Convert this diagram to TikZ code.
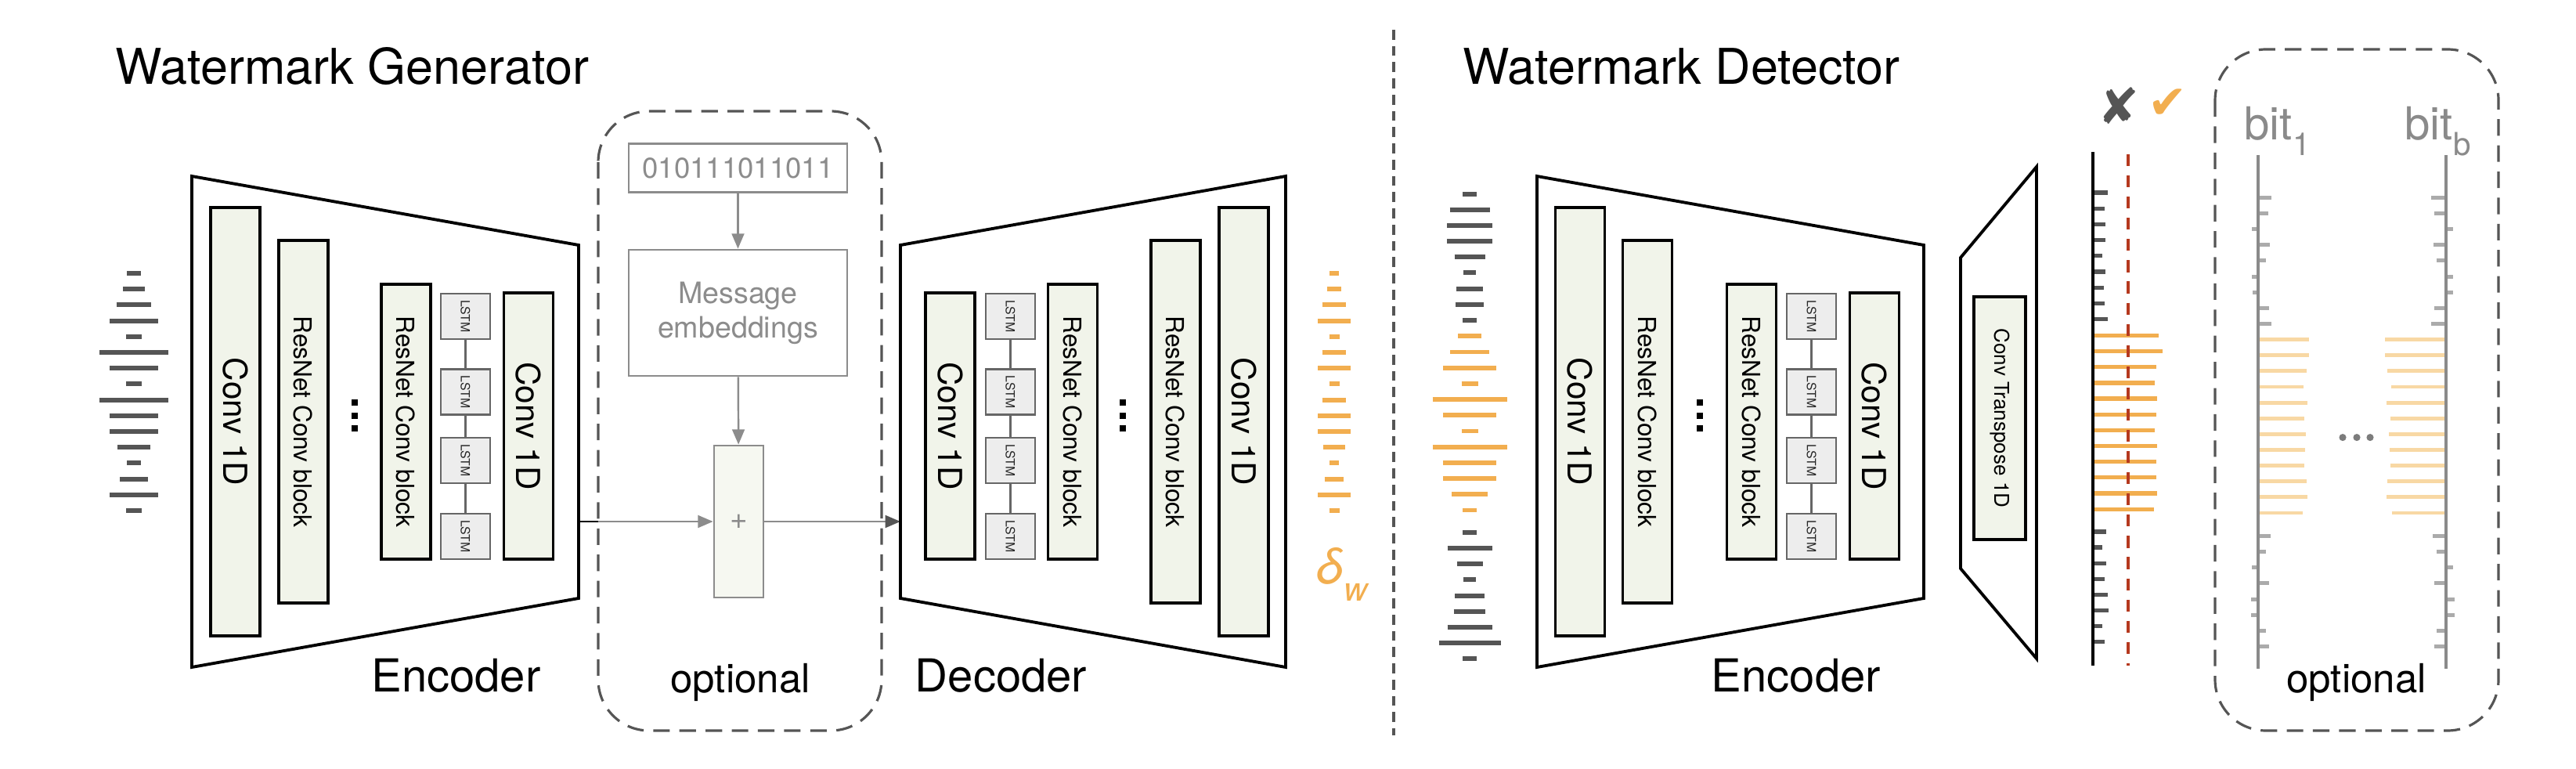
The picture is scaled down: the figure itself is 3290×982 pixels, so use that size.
\documentclass[tikz,border=0pt]{standalone}
\usepackage{fontspec}
\setmainfont{TeX Gyre Heros}
\newfontfamily\symfont{DejaVu Sans}
\usetikzlibrary{arrows.meta}
\definecolor{boxfill}{HTML}{F1F4EA}
\definecolor{plusfill}{HTML}{F6F8F1}
\definecolor{lstmfill}{HTML}{EDEDED}
\definecolor{lstmgray}{HTML}{666666}
\definecolor{wavegray}{HTML}{555555}
\definecolor{wmorange}{HTML}{F2AE4F}
\definecolor{lightorange}{HTML}{F8D8A4}
\definecolor{lightgray}{HTML}{ABABAB}
\definecolor{axisgray}{HTML}{8A8A8A}
\definecolor{msggray}{HTML}{8C8C8C}
\definecolor{dashgray}{HTML}{555555}
\definecolor{thresh}{HTML}{B5391F}
\tikzset{
  blockbox/.style={draw=black, line width=0.95pt, fill=boxfill, inner sep=0pt, rotate=-90, minimum height=0.63cm},
  conv/.style={blockbox, font=\fontsize{12}{14}\selectfont},
  resnet/.style={blockbox, font=\fontsize{9}{10}\selectfont},
  lstm/.style={draw=lstmgray, line width=0.75pt, fill=lstmfill, inner sep=0pt, rotate=-90, minimum width=0.58cm, minimum height=0.63cm, text=black!85, font=\fontsize{4.5}{5}\selectfont},
  lstmwire/.style={draw=lstmgray, line width=0.75pt},
  trap/.style={draw=black, line width=1.1pt, line join=miter},
  msgbox/.style={draw=msggray, line width=0.75pt, text=msggray, inner sep=0pt},
  garrow/.style={draw=msggray, line width=0.7pt, -{Triangle[length=5.5pt,width=4.5pt,color=msggray]}},
  optbox/.style={draw=dashgray, line width=0.9pt, dash pattern=on 6pt off 3.5pt, rounded corners=0.65cm},
  wavebar/.style={line width=1.7pt},
  tickbar/.style={line width=1.5pt},
  bitbar/.style={line width=1.4pt},
  titletext/.style={anchor=base west, inner sep=0pt, font=\fontsize{17.9}{20}\selectfont},
  lbl/.style={anchor=base, inner sep=0pt, font=\fontsize{16.5}{18}\selectfont},
  optlbl/.style={anchor=base, inner sep=0pt, font=\fontsize{14.5}{16}\selectfont},
  bitlbl/.style={anchor=base west, inner sep=0pt, text=axisgray, font=\fontsize{16.5}{18}\selectfont}
}
\begin{document}
\begin{tikzpicture}[x=0.01cm, y=-0.01cm, line cap=butt]
\useasboundingbox (0,0) rectangle (3290,982);

% titles
\node[titletext] (genTitle) at (147,108) {Watermark Generator};
\node[titletext] (detTitle) at (1868,108) {Watermark Detector};

% input audio
\foreach \w [count=\i from 0] in {17.3,27.3,44.7,61.7,19.3,87.3,61.7,19.3,87.3,61.7,61.7,41.3,17.3,36.3,61.7,19.3}
  \draw[wavebar, wavegray] ({171-\w/2},{349+20.2*\i}) -- ++(\w,0);

% generator: encoder
\draw[trap] (245,225) -- (739,313) -- (739,764) -- (245,852) -- cycle;
\node[conv, minimum width=5.47cm] (gc1) at (300.5,538.5) {Conv 1D};
\node[resnet, minimum width=4.63cm] (gr1) at (387.5,538.5) {ResNet Conv block};
\foreach \y in {514,530.5,547} \fill ({452.5-4},{\y-4}) rectangle ++(8,8);
\node[resnet, minimum width=3.51cm] (gr2) at (518.5,538.5) {ResNet Conv block};
\foreach \y [count=\i] in {404,500.5,588,685} \node[lstm] (gl\i) at (594.5,\y) {LSTM};
\foreach \i/\j in {1/2,2/3,3/4} \draw[lstmwire] (gl\i) -- (gl\j);
\node[conv, minimum width=3.40cm] (gc2) at (675,544) {Conv 1D};
\node[lbl] (genEnc) at (582.5,883) {Encoder};
\coordinate (genOut) at (739,666);

% optional message
\draw[optbox] (764,142) rectangle (1126,933);
\node[msgbox, minimum width=2.79cm, minimum height=0.62cm, font=\fontsize{10.4}{12}\selectfont] (bits) at (942.5,214.5) {010111011011};
\node[msgbox, minimum width=2.79cm, minimum height=1.61cm, align=center, font=\fontsize{10.7}{12.5}\selectfont] (msg) at (942.5,399.5) {Message\\embeddings};
\node[msgbox, fill=plusfill, minimum width=0.63cm, minimum height=1.94cm, font=\fontsize{11}{12}\selectfont] (plus) at (943.5,666) {+};
\node[optlbl] (genOpt) at (945.5,884) {optional};
\draw[garrow] (bits) -- (msg);
\draw[garrow] (msg) -- (plus);
\coordinate (optIn) at (764,666);
\coordinate (decIn) at (1150,666);
\draw[line width=0.75pt] (genOut) -- (optIn);
\draw[garrow] (optIn) -- (plus);
\draw[garrow, -{Triangle[length=5.5pt,width=4.5pt,color=dashgray]}] (plus) -- (decIn);

% generator: decoder
\draw[trap] (1150,313) -- (1642,225) -- (1642,852) -- (1150,764) -- cycle;
\node[conv, minimum width=3.40cm] (dc1) at (1213.5,544) {Conv 1D};
\foreach \y [count=\i] in {404,500.5,588,685} \node[lstm] (dl\i) at (1290.5,\y) {LSTM};
\foreach \i/\j in {1/2,2/3,3/4} \draw[lstmwire] (dl\i) -- (dl\j);
\node[resnet, minimum width=3.51cm] (dr1) at (1370,538.5) {ResNet Conv block};
\foreach \y in {514,530.5,547} \fill ({1434-4},{\y-4}) rectangle ++(8,8);
\node[resnet, minimum width=4.63cm] (dr2) at (1501.5,538.5) {ResNet Conv block};
\node[conv, minimum width=5.47cm] (dc2) at (1588.5,538.5) {Conv 1D};
\node[lbl] (genDec) at (1278.5,883) {Decoder};

% watermark
\foreach \w [count=\i from 0] in {11.3,18.3,30.7,42,13,30.7,42,13,30.7,42,42,28.7,11.3,24.7,42,13}
  \draw[wavebar, wmorange] ({1704-\w/2},{349+20.2*\i}) -- ++(\w,0);
\node[anchor=base west, inner sep=0pt, text=wmorange, font=\fontsize{18}{18}\selectfont\itshape] (delta) at (1681,745) {δ\raisebox{-6.3pt}{\fontsize{12}{12}\selectfont w}};

% separator
\draw[dashgray, line width=1.1pt, dash pattern=on 3.6pt off 2.3pt] (1780,38) -- (1780,939);

% detector input
\foreach \w [count=\i from 0] in {17.7,51,57.7,57.7,39,15.3,33.7,36.7,18}
  \draw[wavebar, wavegray] ({1877-\w/2},{247.7+20.15*\i}) -- ++(\w,0);
\foreach \w [count=\i from 0] in {29.7,49.7,68.3,21,95,68.3,21,95,68.3,68.3,45.7,18}
  \draw[wavebar, wmorange] ({1877-\w/2},{429.3+20.2*\i}) -- ++(\w,0);
\foreach \w [count=\i from 0] in {17.7,57,33,15.3,38,40.7,57,79,17.7}
  \draw[wavebar, wavegray] ({1877-\w/2},{680+20.14*\i}) -- ++(\w,0);

% detector: encoder
\draw[trap] (1963,225) -- (2457,313) -- (2457,764) -- (1963,852) -- cycle;
\node[conv, minimum width=5.47cm] (ec1) at (2018,538.5) {Conv 1D};
\node[resnet, minimum width=4.63cm] (er1) at (2104,538.5) {ResNet Conv block};
\foreach \y in {514,530.5,547} \fill ({2171-4},{\y-4}) rectangle ++(8,8);
\node[resnet, minimum width=3.51cm] (er2) at (2237,538.5) {ResNet Conv block};
\foreach \y [count=\i] in {404,500.5,588,685} \node[lstm] (el\i) at (2313.5,\y) {LSTM};
\foreach \i/\j in {1/2,2/3,3/4} \draw[lstmwire] (el\i) -- (el\j);
\node[conv, minimum width=3.40cm] (ec2) at (2394,544) {Conv 1D};
\node[lbl] (detEnc) at (2294,883) {Encoder};

% conv transpose
\draw[trap] (2504,329) -- (2601,213) -- (2601,841) -- (2504,726) -- cycle;
\node[blockbox, minimum width=3.10cm, minimum height=0.66cm, font=\fontsize{7.4}{8}\selectfont] (ct) at (2554,534) {Conv Transpose 1D};

% detection output
\foreach \l [count=\i from 0] in {17,13,14,14,10,14,12,13,17}
  \draw[tickbar, wavegray] (2673,{246+20.2*\i}) -- ++(\l+2,0);
\foreach \l [count=\i from 0] in {82,87,79,77,80,79,77,80,79,79,80,76}
  \draw[tickbar, wmorange] (2673,{428.5+20.15*\i}) -- ++(\l+2,0);
\foreach \l [count=\i from 0] in {15,10,15,13,17,18,10,13}
  \draw[tickbar, wavegray] (2673,{679+20.1*\i}) -- ++(\l+2,0);
\draw[line width=1.15pt] (2673,194) -- (2673,850);
\draw[thresh, line width=1.1pt, dash pattern=on 4.3pt off 3.4pt] (2718,197) -- (2718,850);
\node[inner sep=0pt, text=wavegray, font=\symfont\fontsize{18}{18}\selectfont] (nomark) at (2705.5,135.5) {✘};
\node[inner sep=0pt, text=wmorange, font=\symfont\fontsize{17}{17}\selectfont] (yesmark) at (2768.5,132.5) {✔};

% optional bits
\draw[optbox] (2829,63) rectangle (3191,933);
\node[bitlbl] (bit1) at (2866,178.5) {bit\raisebox{-5.7pt}{\fontsize{11.5}{12}\selectfont 1}};
\node[bitlbl] (bitb) at (3071,178.5) {bit\raisebox{-5.7pt}{\fontsize{11.5}{12}\selectfont b}};
\foreach \l [count=\i from 0] in {17,13,-8,15,10,-8,-7,14,17}
  \draw[bitbar, lightgray] (2884,{252.3+20.15*\i}) -- ++(\l,0);
\foreach \l [count=\i from 0] in {65,65,62,58,63,59,61,60,59,62,63,57}
  \draw[bitbar, lightorange] (2884,{433.6+20.13*\i}) -- ++(\l,0);
\foreach \l [count=\i from 0] in {16,10,-8,14,-9,-9,10,14}
  \draw[bitbar, lightgray] (2884,{684.5+20.14*\i}) -- ++(\l,0);
\foreach \l [count=\i from 0] in {-19,-15,9,-16,-12,9,9,-15,-19}
  \draw[bitbar, lightgray] (3124,{252.3+20.15*\i}) -- ++(\l,0);
\foreach \l [count=\i from 0] in {-78,-78,-75,-70,-76,-71,-73,-72,-71,-75,-76,-69}
  \draw[bitbar, lightorange] (3124,{433.6+20.13*\i}) -- ++(\l,0);
\foreach \l [count=\i from 0] in {-17,-12,9,-15,11,11,-12,-15}
  \draw[bitbar, lightgray] (3124,{684.5+20.14*\i}) -- ++(\l,0);
\draw[axisgray, line width=0.95pt] (2884,198) -- (2884,854);
\draw[axisgray, line width=0.95pt] (3124,198) -- (3124,854);
\foreach \x in {2992,3010,3027} \fill[axisgray!90!black] (\x,558.6) circle[radius=1.3pt];
\node[optlbl] (detOpt) at (3009.5,884) {optional};
\end{tikzpicture}
\end{document}
